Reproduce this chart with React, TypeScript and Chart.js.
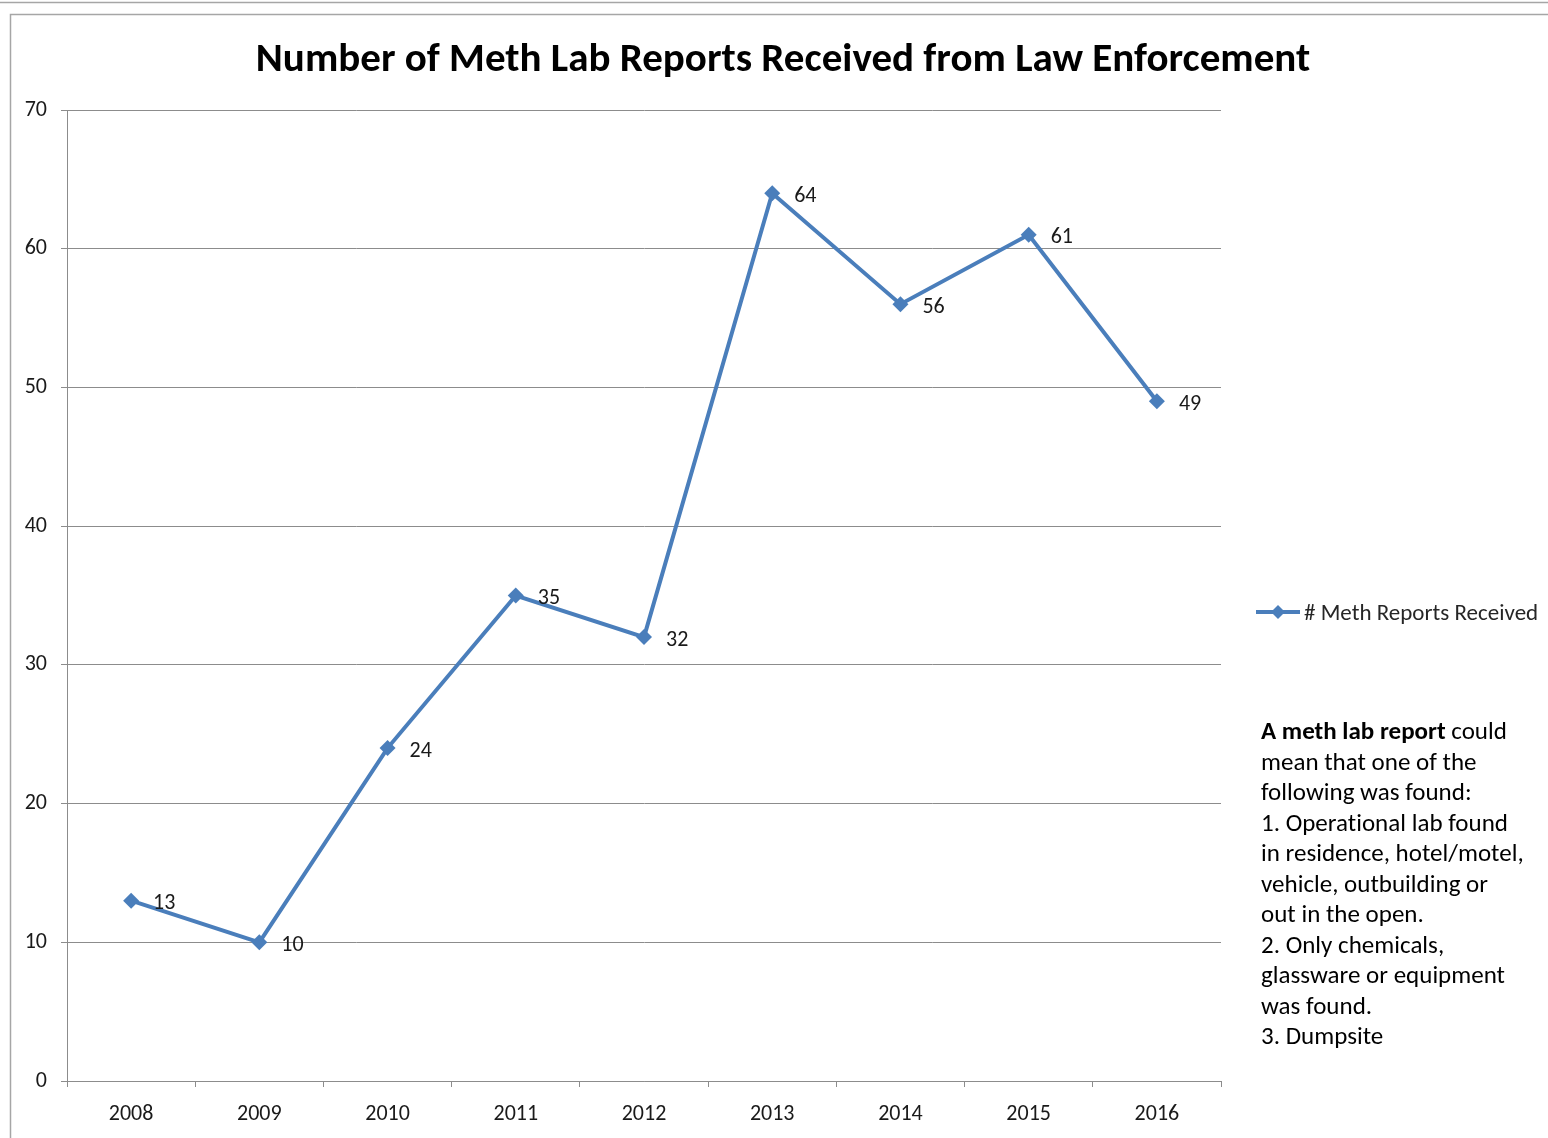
import React, { useEffect, useRef } from "react";
import { Chart, registerables } from "chart.js";

Chart.register(...registerables);

const years = ["2008", "2009", "2010", "2011", "2012", "2013", "2014", "2015", "2016"];
const reports = [13, 10, 24, 35, 32, 64, 56, 61, 49];
const yMin = 0;
const yMax = 70;
const yStep = 10;
const seriesLabel = "# Meth Reports Received";
const titleText = "Number of Meth Lab Reports Received from Law Enforcement";
const noteLines: { text: string; bold?: boolean }[][] = [
  [{ text: "A meth lab report", bold: true }, { text: " could" }],
  [{ text: "mean that one of the" }],
  [{ text: "following was found:" }],
  [{ text: "1. Operational lab found" }],
  [{ text: "in residence, hotel/motel," }],
  [{ text: "vehicle, outbuilding or" }],
  [{ text: "out in the open." }],
  [{ text: "2. Only chemicals," }],
  [{ text: "glassware or equipment" }],
  [{ text: "was found." }],
  [{ text: "3. Dumpsite" }],
];

const FONT = "Carlito, Calibri, Lato, 'Open Sans', sans-serif";
const LINE_COLOR = "#4A7EBB";
const GRID_COLOR = "#8C8C8C";
const W = 1548;
const H = 1138;

const decorPlugin = {
  id: "decor",
  beforeDraw(chart: any) {
    const ctx = chart.ctx;
    ctx.save();
    ctx.fillStyle = "#ffffff";
    ctx.fillRect(0, 0, W, H);
    ctx.strokeStyle = "#A6A6A6";
    ctx.lineWidth = 1.5;
    ctx.beginPath();
    ctx.moveTo(0, 2.5);
    ctx.lineTo(W, 2.5);
    ctx.moveTo(10.5, H);
    ctx.lineTo(10.5, 14.5);
    ctx.lineTo(W, 14.5);
    ctx.stroke();
    ctx.restore();
  },
  afterDatasetsDraw(chart: any) {
    const ctx = chart.ctx;
    const meta = chart.getDatasetMeta(0);
    ctx.save();
    ctx.font = `22px ${FONT}`;
    ctx.fillStyle = "#1a1a1a";
    ctx.textAlign = "left";
    ctx.textBaseline = "middle";
    meta.data.forEach((pt: any, i: number) => {
      ctx.fillText(String(reports[i]), pt.x + 22, pt.y + 3);
    });
    ctx.restore();
  },
  afterDraw(chart: any) {
    const ctx = chart.ctx;
    ctx.save();
    (ctx as any).letterSpacing = "0.01px";
    // title
    ctx.font = `bold 41px ${FONT}`;
    ctx.fillStyle = "#000000";
    ctx.textAlign = "center";
    ctx.textBaseline = "middle";
    ctx.fillText(titleText, 783, 61);

    // legend
    ctx.strokeStyle = LINE_COLOR;
    ctx.lineWidth = 4;
    ctx.beginPath();
    ctx.moveTo(1256, 612);
    ctx.lineTo(1300, 612);
    ctx.stroke();
    ctx.fillStyle = LINE_COLOR;
    ctx.beginPath();
    ctx.moveTo(1278, 605);
    ctx.lineTo(1285, 612);
    ctx.lineTo(1278, 619);
    ctx.lineTo(1271, 612);
    ctx.closePath();
    ctx.fill();
    ctx.font = `23px ${FONT}`;
    ctx.fillStyle = "#262626";
    ctx.textAlign = "left";
    ctx.fillText(seriesLabel, 1304, 614);

    // note
    ctx.fillStyle = "#000000";
    ctx.textBaseline = "middle";
    noteLines.forEach((line, i) => {
      let x = 1261;
      const y = 733 + i * 30.5;
      line.forEach((seg) => {
        ctx.font = `${seg.bold ? "bold " : ""}25px ${FONT}`;
        ctx.fillText(seg.text, x, y);
        x += ctx.measureText(seg.text).width;
      });
    });
    ctx.restore();
  },
};

export default function App() {
  const canvasRef = useRef<HTMLCanvasElement | null>(null);

  useEffect(() => {
    if (!canvasRef.current) return;
    const chart = new Chart(canvasRef.current, {
      type: "line",
      data: {
        labels: years,
        datasets: [
          {
            label: seriesLabel,
            data: reports,
            borderColor: LINE_COLOR,
            backgroundColor: LINE_COLOR,
            borderWidth: 4,
            pointStyle: "rectRot",
            pointRadius: 8,
            pointBorderWidth: 0,
            pointBackgroundColor: LINE_COLOR,
            tension: 0,
          },
        ],
      },
      plugins: [decorPlugin],
      options: {
        responsive: false,
        animation: false,
        devicePixelRatio: 1,
        layout: { padding: { left: 0, top: 110, right: W - 1221, bottom: 0 } },
        plugins: {
          legend: { display: false },
          title: { display: false },
          tooltip: { enabled: false },
        },
        scales: {
          x: {
            type: "category",
            offset: true,
            grid: {
              offset: true,
              drawOnChartArea: false,
              drawTicks: true,
              tickLength: 6,
              color: GRID_COLOR,
            },
            border: { display: true, color: GRID_COLOR, width: 1 },
            ticks: {
              font: { family: FONT, size: 22 },
              color: "#1a1a1a",
              padding: 14,
              maxRotation: 0,
            },
            afterFit(scale: any) {
              scale.height = H - 1081;
            },
          },
          y: {
            min: yMin,
            max: yMax,
            ticks: {
              stepSize: yStep,
              font: { family: FONT, size: 22 },
              color: "#1a1a1a",
              padding: 14,
            },
            grid: {
              color: GRID_COLOR,
              lineWidth: 1,
              tickLength: 6,
            },
            border: { display: true, color: GRID_COLOR, width: 1 },
            afterFit(scale: any) {
              scale.width = 67;
            },
          },
        },
      },
    });
    return () => chart.destroy();
  }, []);

  return (
    <div style={{ position: "absolute", left: 0, top: 0, width: W, height: H }}>
      <canvas ref={canvasRef} width={W} height={H} style={{ width: W, height: H, display: "block" }} />
    </div>
  );
}
